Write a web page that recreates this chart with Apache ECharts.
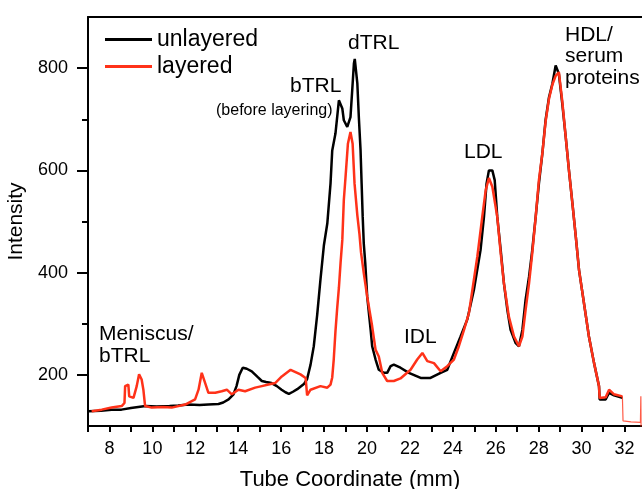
<!DOCTYPE html>
<html>
<head>
<meta charset="utf-8">
<script src="https://cdn.jsdelivr.net/npm/echarts@6/dist/echarts.min.js"></script>
<style>html,body{margin:0;padding:0;background:#fff}#c{width:642px;height:489px}</style>
</head>
<body>
<div id="c"></div>
<script>
// Tube coordinate (mm) and intensity
const unlayeredX = [7.02,7.6,8.1,8.56,9.0,9.68,10.2,10.8,11.2,11.68,12.2,12.6,13.08,13.3,13.55,13.78,13.92,14.05,14.21,14.4,14.63,14.9,15.10,15.3,15.55,15.8,16.02,16.2,16.36,16.55,16.75,17.06,17.21,17.37,17.52,17.68,17.83,17.99,18.15,18.30,18.38,18.53,18.61,18.69,18.77,18.85,18.92,19.08,19.15,19.23,19.31,19.39,19.43,19.55,19.62,19.70,19.75,19.80,19.85,19.92,20.01,20.17,20.24,20.40,20.55,20.79,20.94,21.10,21.25,21.56,21.95,22.03,22.50,22.96,23.43,23.74,24.05,24.36,24.67,24.98,25.29,25.45,25.57,25.68,25.84,25.95,26.07,26.23,26.38,26.54,26.69,26.93,27.08,27.24,27.39,27.55,27.70,27.86,28.01,28.17,28.32,28.48,28.64,28.79,28.94,29.10,29.26,29.41,29.57,29.73,29.88,30.11,30.34,30.58,30.81,30.84,31.12,31.28,31.51,31.90];
const unlayeredY = [129,130,132,132,135,139,138,139,140,142,141,142,143,146,152,162,178,200,214,212,207,196,188,186,184,178,171,166,163,167,172,182,192,220,256,318,386,453,496,574,639,672,704,737,740,721,698,685,682,704,756,809,818,770,704,639,574,509,457,418,353,288,256,230,210,204,204,217,220,214,204,201,194,194,204,210,243,275,308,366,444,509,574,600,600,581,509,444,379,327,288,262,256,288,347,392,444,509,574,633,698,743,770,805,789,730,665,600,536,470,405,340,275,223,178,152,152,165,160,155];
const layeredX = [7.17,7.64,8.10,8.57,8.70,8.73,8.88,8.92,9.12,9.27,9.38,9.50,9.58,9.66,9.97,10.5,10.90,11.53,11.99,12.15,12.30,12.46,12.61,12.93,13.23,13.47,13.70,14.01,14.32,14.79,15.10,15.41,15.72,16.03,16.44,16.90,17.14,17.21,17.37,17.83,18.15,18.30,18.38,18.45,18.53,18.61,18.69,18.77,18.85,18.92,19.00,19.11,19.23,19.33,19.42,19.55,19.65,19.72,19.85,20.01,20.24,20.40,20.55,20.71,20.94,21.25,21.56,22.03,22.34,22.58,22.81,23.12,23.43,23.74,24.05,24.28,24.52,24.75,24.91,25.14,25.37,25.53,25.68,25.84,26.07,26.23,26.38,26.61,26.85,27.08,27.24,27.39,27.55,27.70,27.86,28.01,28.17,28.32,28.48,28.64,28.79,28.94,29.10,29.26,29.41,29.57,29.73,29.88,30.11,30.34,30.58,30.81,30.84,31.12,31.28,31.51,31.90];
const layeredY = [129,132,136,139,145,178,181,158,155,178,201,191,171,139,136,137,136,142,152,171,204,184,165,165,168,171,162,171,168,175,178,181,184,197,210,201,194,160,171,178,175,181,195,230,285,330,370,420,464,542,587,652,675,652,574,512,475,440,399,353,295,249,236,204,188,188,193,210,230,243,227,223,207,217,230,256,288,321,366,431,509,561,585,568,509,438,379,314,275,256,275,327,379,438,509,581,633,695,740,768,785,792,735,665,600,536,470,405,340,275,223,178,155,156,171,162,158];
const tailX = [31.90,31.93,32.3,32.74,32.76,32.77];
const tailY = [158,110,108,107,158,95];
const xTickLabels = [8,10,12,14,16,18,20,22,24,26,28,30,32];
const yTickLabels = [200,400,600,800];
const yMinorTicks = [300,500,700];

const zip = (xs, ys) => xs.map((x, i) => [x, ys[i]]);
const FONT = 'Liberation Sans, Arial, sans-serif';
const RED = '#ff3219';

const chart = echarts.init(document.getElementById('c'), null, {renderer: 'canvas'});
chart.setOption({
  animation: false,
  backgroundColor: '#fff',
  grid: {left: 88, top: 17, right: -4, bottom: 63, containLabel: false, outerBoundsMode: 'none'},
  legend: {
    orient: 'vertical', left: 100, top: 23, itemWidth: 47, itemHeight: 3, itemGap: 4,
    icon: 'rect', data: ['unlayered', 'layered'],
    textStyle: {fontFamily: FONT, fontSize: 23, lineHeight: 23, color: '#000'}
  },
  xAxis: [{
    type: 'value', min: 7, max: 33, interval: 1,
    name: 'Tube Coordinate (mm)', nameLocation: 'middle', nameGap: 43,
    nameTextStyle: {fontFamily: FONT, fontSize: 22, color: '#000', padding: [0, 34, 0, 0]},
    axisLine: {show: true, onZero: false, lineStyle: {color: '#000', width: 2}},
    axisTick: {show: true, length: 6, inside: false, lineStyle: {color: '#000', width: 2}},
    axisLabel: {
      margin: 14, fontFamily: FONT, fontSize: 18, color: '#000',
      formatter: v => xTickLabels.indexOf(v) >= 0 ? String(v) : ''
    },
    splitLine: {show: false}
  }, {
    type: 'value', position: 'top', min: 7, max: 33,
    axisLine: {show: true, onZero: false, lineStyle: {color: '#000', width: 2}},
    axisTick: {show: false}, axisLabel: {show: false}, splitLine: {show: false}
  }],
  yAxis: [{
    type: 'value', min: 100, max: 900,
    name: 'Intensity', nameLocation: 'middle', nameGap: 55,
    nameTextStyle: {fontFamily: FONT, fontSize: 21, color: '#000'},
    axisLine: {show: true, onZero: false, lineStyle: {color: '#000', width: 2}},
    axisTick: {show: true, length: 11, customValues: yTickLabels, lineStyle: {color: '#000', width: 2}},
    axisLabel: {margin: 20, fontFamily: FONT, fontSize: 18, color: '#000', customValues: yTickLabels},
    splitLine: {show: false}
  }, {
    type: 'value', min: 100, max: 900, position: 'left',
    axisLine: {show: false},
    axisTick: {show: true, length: 6, customValues: yMinorTicks, lineStyle: {color: '#000', width: 2}},
    axisLabel: {show: false}, splitLine: {show: false}
  }],
  series: [{
    name: 'unlayered', type: 'line', data: zip(unlayeredX, unlayeredY),
    showSymbol: false, symbol: 'none', color: '#000', lineStyle: {color: '#000', width: 2.5}, z: 2
  }, {
    name: 'layered', type: 'line', data: zip(layeredX, layeredY),
    showSymbol: false, symbol: 'none', color: RED, lineStyle: {color: RED, width: 2.5}, z: 3
  }, {
    name: 'layered tail', type: 'line', data: zip(tailX, tailY),
    showSymbol: false, symbol: 'none', color: RED, lineStyle: {color: RED, width: 1.2, opacity: 0.8}, z: 3
  }],
  graphic: [
    {type: 'text', left: 99, top: 323, style: {text: 'Meniscus/\nbTRL', font: '21px ' + FONT, lineHeight: 22, fill: '#000'}},
    {type: 'text', left: 290, top: 76, style: {text: 'bTRL', font: '21px ' + FONT, fill: '#000'}},
    {type: 'text', left: 216, top: 103, style: {text: '(before layering)', font: '16px ' + FONT, fill: '#000'}},
    {type: 'text', left: 348, top: 33, style: {text: 'dTRL', font: '21px ' + FONT, fill: '#000'}},
    {type: 'text', left: 404, top: 327, style: {text: 'IDL', font: '21px ' + FONT, fill: '#000'}},
    {type: 'text', left: 464, top: 142, style: {text: 'LDL', font: '21px ' + FONT, fill: '#000'}},
    {type: 'text', left: 565, top: 24, style: {text: 'HDL/\nserum\nproteins', font: '21px ' + FONT, lineHeight: 21.7, fill: '#000'}}
  ]
});
</script>
</body>
</html>
